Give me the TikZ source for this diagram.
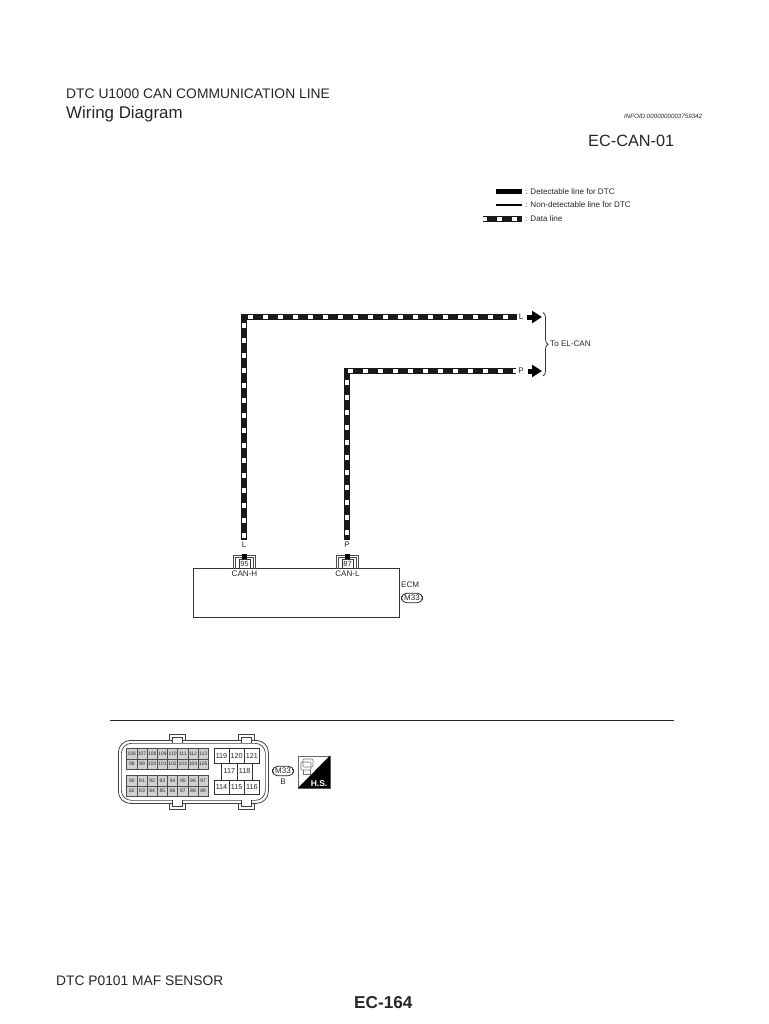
\documentclass[tikz,border=0pt]{standalone}
\usepackage{fontspec}
\setmainfont{Liberation Sans}
\usetikzlibrary{arrows.meta,decorations.pathreplacing}
\begin{document}
\begin{tikzpicture}[x=1pt, y=-1pt]
	\useasboundingbox (0,0) rectangle (768,1024);
	\tikzstyle{every node}=[inner sep=0pt, text=black!85]
	\tikzstyle{datawire}[0pt]=[line width=5.5pt, draw=black!90, postaction={draw=white, line width=3.8pt, dash pattern=on 5pt off 10pt, dash phase=#1}]
	\tikzstyle{wirearrow}=[line width=5pt, black, -{Triangle[length=10pt,width=12pt]}]
	\tikzstyle{tinylabel}=[font=\fontsize{8.1}{9}\selectfont]
	\tikzstyle{wirelabel}=[tinylabel, inner xsep=2pt, inner ysep=2.5pt]
	\tikzstyle{smallpin}=[draw=black!70, fill=black!18, line width=0.5pt, minimum width=10.2pt, minimum height=10.5pt, font=\fontsize{5}{5}\selectfont]
	\tikzstyle{bigpin}=[draw=black!80, line width=0.6pt, minimum width=15.1pt, minimum height=14.5pt, font=\fontsize{7.2}{8}\selectfont]
	\tikzstyle{midpin}=[draw=black!80, line width=0.6pt, minimum width=15.3pt, minimum height=17pt, font=\fontsize{7.2}{8}\selectfont]
	\tikzstyle{pinbox}=[draw=black!80, line width=0.6pt, minimum width=11pt, minimum height=8.5pt, font=\fontsize{7.4}{8}\selectfont]
	\tikzstyle{conn}=[rounded corners=5pt, draw=black!85, line width=0.8pt, minimum width=21pt, minimum height=9.5pt, font=\fontsize{8}{8}\selectfont]
	\tikzstyle{shelltab}=[draw=black!75, fill=white, line width=0.8pt, minimum width=16pt]

	% headings
	\node [anchor=west, font=\fontsize{13.85}{16}\selectfont] (title) at (66,94) {DTC U1000 CAN COMMUNICATION LINE};
	\node [anchor=west, font=\fontsize{16.9}{18}\selectfont] (subtitle) at (66,114) {Wiring Diagram};
	\node [anchor=west, font=\itshape\fontsize{6.2}{7}\selectfont] (infoid) at (624,116) {INFOID:0000000003759342};
	\node [anchor=west, font=\fontsize{16.3}{18}\selectfont] (sheet) at (588,141) {EC-CAN-01};

	% legend
	\coordinate (legA) at (496,192);
	\coordinate (legB) at (496,205);
	\coordinate (legC) at (483,219);
	\coordinate (legAe) at (522,192);
	\coordinate (legBe) at (522,205);
	\coordinate (legCe) at (522,219);
	\node [anchor=west, tinylabel] (legtextA) at (525,192) {: Detectable line for DTC};
	\node [anchor=west, tinylabel] (legtextB) at (525,205) {: Non-detectable line for DTC};
	\node [anchor=west, tinylabel] (legtextC) at (525,219) {: Data line};
	\draw [line width=5pt, black] (legA) -- (legAe);
	\draw [line width=2.5pt, black] (legB) -- (legBe);
	\draw [datawire=1pt] (legC) -- (legCe);

	% ecm
	\node [draw=black!80, line width=0.8pt, anchor=north west, minimum width=206pt, minimum height=49pt] (ecm) at (193,568) {};
	\node [pinbox] (pinH) at (244.5,564) {95};
	\node [pinbox] (pinC) at (347.5,564) {87};
	\foreach \p in {pinH,pinC} {
		\draw [black!70, line width=0.9pt] (\p.south west) ++(-5.5,0) |- ++(22,-13.5) -- ++(0,13.5);
		\draw [black!70, line width=0.9pt] (\p.south west) ++(-3.5,0) |- ++(18,-11) -- ++(0,11);
		\node [fill=black, minimum width=5pt, minimum height=5.5pt] (\p top) at ([yshift=3pt]\p.north) {};
	}
	\node [tinylabel] (lblH) at (244.5,574) {CAN-H};
	\node [tinylabel] (lblC) at (347.5,574) {CAN-L};
	\node [tinylabel, anchor=west] (ecmname) at (401,585) {ECM};
	\node [conn] (ecmconn) at (412,598) {M33};

	% wires
	\node [wirelabel] (wireLb) at (244,545) {L};
	\node [wirelabel] (wirePb) at (347,545) {P};
	\node [wirelabel] (wireLe) at (521,317) {L};
	\node [wirelabel] (wirePe) at (521,371) {P};
	\coordinate (cornerL) at (244,317);
	\coordinate (cornerP) at (347,371);
	\draw [datawire=13pt] (wireLb.north) -- (cornerL) -- (wireLe.west);
	\draw [datawire=10pt] (wirePb.north) -- (cornerP) -- (wirePe.west);
	\coordinate (arrowL) at (542,317);
	\coordinate (arrowP) at (542,371);
	\draw [wirearrow] (wireLe.east) ++(2,0) -- (arrowL);
	\draw [wirearrow] (wirePe.east) ++(2,0) -- (arrowP);
	\coordinate (braceT) at (543,312.5);
	\coordinate (braceB) at (543,376);
	\draw [decorate, decoration={brace, amplitude=5pt}, line width=0.8pt, black!80] (braceT) -- (braceB);
	\node [tinylabel, anchor=west] (toel) at (550,344) {To EL-CAN};

	% separator
	\coordinate (sepL) at (110,720);
	\coordinate (sepR) at (674,720);
	\draw [line width=1pt, black!85] (sepL) -- (sepR);

	% connector face
	\foreach \x/\t in {177.5/a,246/b} {
		\node [shelltab, minimum height=7pt] (tabT\t) at (\x,737.5) {};
		\node [shelltab, minimum height=7pt] (tabB\t) at (\x,805.5) {};
	}
	\node [draw=black!75, fill=white, line width=0.8pt, rounded corners=12pt, anchor=north west, minimum width=150pt, minimum height=63pt] (shell) at (118,740) {};
	\node [draw=black!75, line width=0.7pt, rounded corners=10pt, anchor=north west, minimum width=144pt, minimum height=57pt] (shellin) at (121,743) {};
	\foreach \x in {177.5,246} {
		\draw [black!75, fill=white, line width=0.7pt] (\x-5,743) -- (\x-5,737) -- (\x+5,737) -- (\x+5,743);
		\draw [black!75, fill=white, line width=0.7pt] (\x-5,800) -- (\x-5,806) -- (\x+5,806) -- (\x+5,800);
	}
	\foreach \first/\y in {106/753.5, 98/764, 90/780.5, 82/791} {
		\foreach \c in {0,...,7} {
			\pgfmathtruncatemacro{\n}{\first+\c}
			\node [smallpin] (pin\n) at ({131.8+10.2*\c},\y) {\n};
		}
	}
	\foreach \n/\x in {119/221.5, 120/236.7, 121/251.9} \node [bigpin] (pin\n) at (\x,756) {\n};
	\foreach \n/\x in {117/229.3, 118/244.7} \node [midpin] (pin\n) at (\x,771.5) {\n};
	\foreach \n/\x in {114/221.5, 115/236.7, 116/251.9} \node [bigpin] (pin\n) at (\x,787.5) {\n};
	\node [conn] (faceconn) at (283,771) {M33};
	\node [tinylabel] (facepos) at (283,782) {B};

	% harness symbol
	\node [draw=black!60, line width=0.5pt, anchor=north west, minimum width=31.5pt, minimum height=32pt] (hsbox) at (298,755.5) {};
	\fill [black] (hsbox.north east) -- (hsbox.south east) -- (hsbox.south west) -- cycle;
	\draw [black!55, line width=0.6pt, rounded corners=1pt] (301,762) rectangle (311,770);
	\draw [black!55, line width=0.6pt, rounded corners=1pt] (303,759) rectangle (313,767);
	\draw [black!55, line width=0.5pt] (303,770) -- (303,774) -- (310,774) -- (310,770);
	\node [anchor=south east, text=white, font=\bfseries\fontsize{8.5}{9}\selectfont] (hslabel) at (327.5,786.5) {H.S.};

	% footer
	\node [anchor=west, font=\fontsize{13.8}{16}\selectfont] (footer) at (56,981) {DTC P0101 MAF SENSOR};
	\node [anchor=west, font=\bfseries\fontsize{17.2}{18}\selectfont] (pageno) at (354,1003) {EC-164};
\end{tikzpicture}
\end{document}
